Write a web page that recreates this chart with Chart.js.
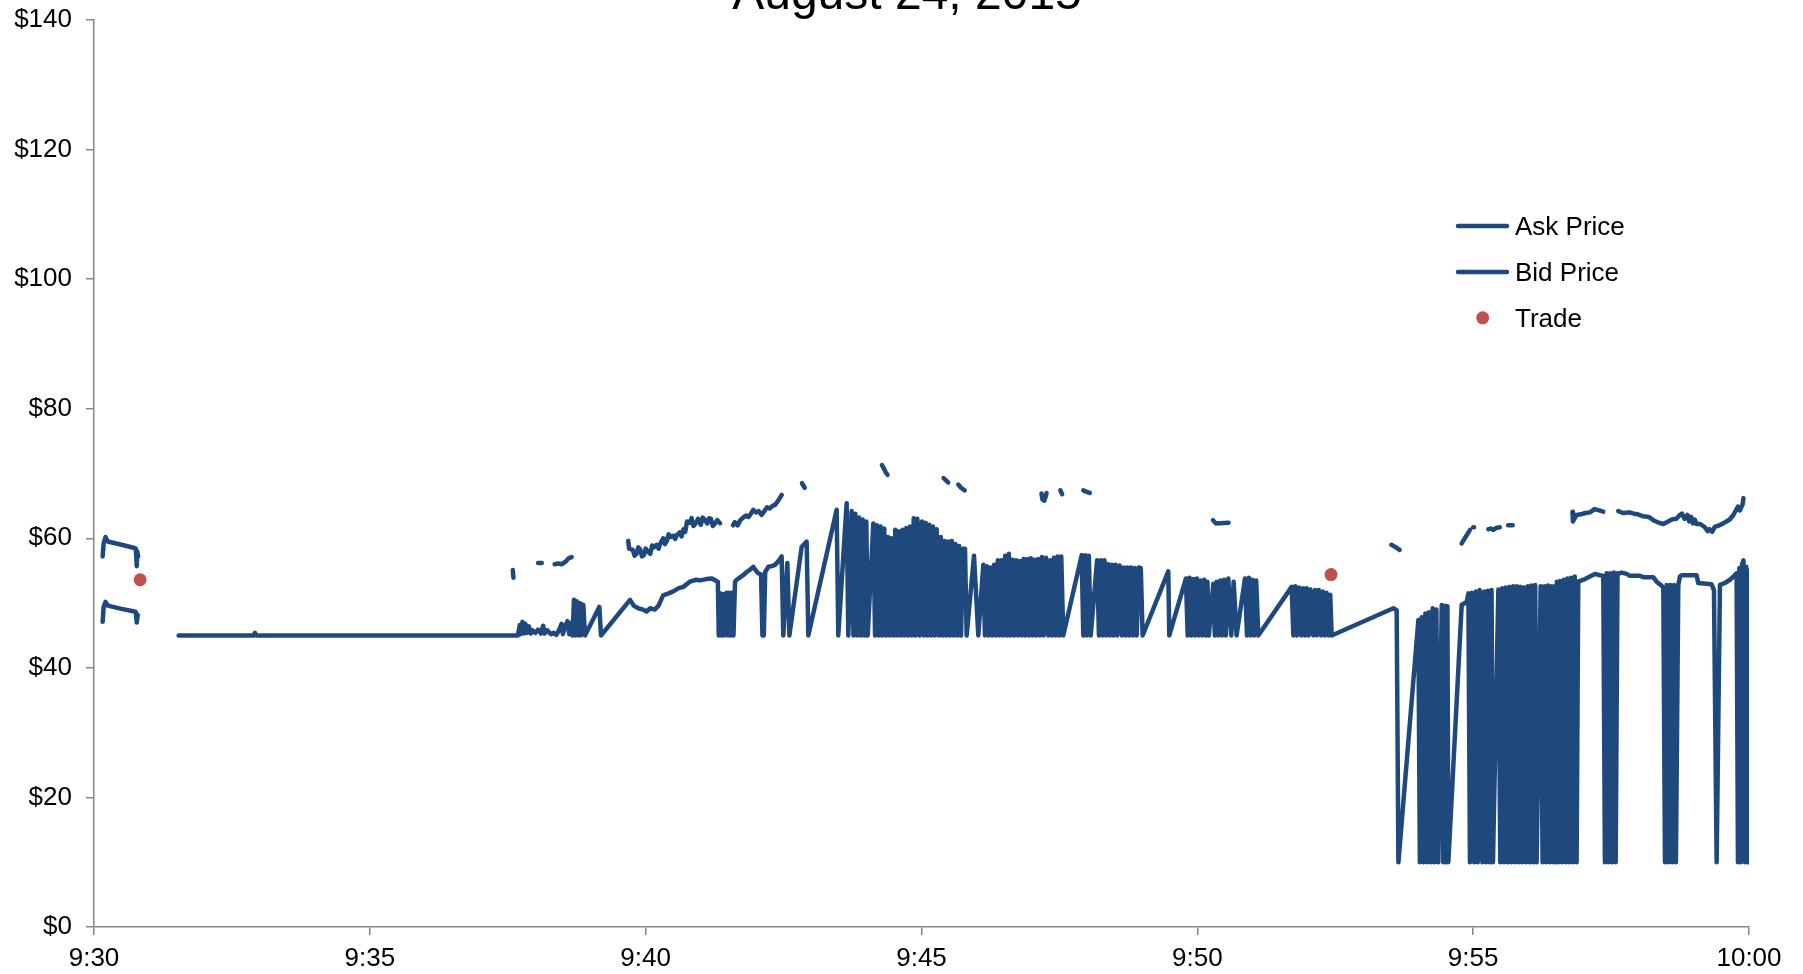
<!DOCTYPE html>
<html>
<head>
<meta charset="utf-8">
<title>August 24, 2015</title>
<script src="https://cdn.jsdelivr.net/npm/chart.js@4.4.1/dist/chart.umd.min.js"></script>
<style>
  html, body { margin: 0; padding: 0; background: #fff; }
  #wrap { width: 1803px; height: 974px; }
</style>
</head>
<body>
<div id="wrap"><canvas id="quoteChart" width="1803" height="974"></canvas></div>
<script>
// times are seconds after 9:30:00, prices in dollars; null breaks the line
const chartTitle = 'August 24, 2015';
const timeLabels = ['9:30', '9:35', '9:40', '9:45', '9:50', '9:55', '10:00'];
const priceLabels = ['$0', '$20', '$40', '$60', '$80', '$100', '$120', '$140'];

const askQuotes = [
  [9.4,57.2],[10.5,59.2],[12.5,60.2],[15,59.5],[30,59.0],[44,58.5],[45.5,58.4],[46.5,55.7],[47,58.0],[48,57.2],[48.5,null],
  [455.5,55.1],[456.2,53.9],[457,null],
  [483,56.2],[487,56.2],[488,null],
  [501,56.0],[505,56.1],[509,56.0],[513,56.4],[516,56.9],[519.5,57.1],[520,null],
  [581,59.6],[582,58.4],[586,58.2],[588,57.3],[590,57.6],[592,58.6],[594,58.3],[596,57.2],[598,57.4],[600,58.4],[602,58.0],[605,57.6],
  [607,58.9],[609,58.6],[612,59.0],[614,58.4],[616,59.2],[619,60.0],[621,59.1],[623,59.6],[625,60.6],[627,60.2],[630,60.4],[632,59.9],
  [634,60.5],[637,60.9],[639,60.3],[641,61.4],[643,61.0],[645,62.6],[648,62.4],[650,63.1],[652,61.9],[654,62.2],[657,63.0],[660,62.1],
  [662,63.2],[664,62.9],[667,62.3],[669,63.1],[671,63.0],[673,61.9],[675,62.2],[678,62.8],[681,62.3],[682,null],
  [695,62.0],[697,62.5],[700,62.0],[703,62.8],[706,63.2],[709,63.5],[712,63.3],[715,63.9],[717,64.4],[720,64.0],[723,64.2],[726,63.6],
  [729,64.2],[732,64.8],[735,64.6],[738,65.0],[741,65.2],[744,65.8],[748,66.7],[749,null],
  [770,68.5],[773,67.8],[774,null],
  [857,71.3],[859,70.8],[861,70.2],[863,69.8],[864,null],
  [924,69.3],[927,68.9],[929,68.6],[930,null],
  [940,68.3],[943,67.8],[947,67.4],[948,null],
  [1030.5,66.9],[1031.5,66.0],[1033.5,65.8],[1035,66.4],[1036,67.0],[1037,null],
  [1051,67.4],[1053,66.8],[1054,null],
  [1076,67.4],[1079,67.2],[1083,67.0],[1084,null],
  [1217,62.8],[1220,62.3],[1234,62.4],[1235,null],
  [1411,59.0],[1416,58.6],[1420,58.2],[1421,null],
  [1487.5,59.2],[1490,59.8],[1493,60.5],[1496.6,61.3],[1497,null],
  [1500,61.7],[1501,61.7],[1502,null],
  [1516.5,61.4],[1519,61.5],[1522,61.3],[1525,61.6],[1529,61.7],[1530,null],
  [1538,62.0],[1543,62.0],[1544,null],
  [1608,64.1],[1608.5,62.6],[1612.5,63.6],[1617,63.7],[1622,63.9],[1627,64.0],[1632,64.5],[1637,64.3],[1641.5,64.1],[1642,null],
  [1657.8,64.2],[1663,63.9],[1670,64.0],[1675,63.8],[1679,63.7],[1685,63.4],[1691,63.3],[1697,62.7],[1702,62.4],[1707,62.2],
  [1712,62.6],[1716,62.9],[1721,63.0],[1724,63.5],[1727,63.8],[1730,63.0],[1733,63.6],[1735,62.6],[1737,63.3],[1739,62.3],
  [1741,62.9],[1743,62.2],[1747,62.2],[1752,61.7],[1755,61.1],[1757,61.4],[1760,61.0],[1763,61.8],[1766,61.9],[1772,62.3],
  [1779,62.9],[1783,63.6],[1788,64.9],[1790,64.3],[1793,65.2],[1794,66.2]
];

const bidQuotes = [
  [9.4,47.1],[10.5,49.4],[12.5,50.2],[15,49.6],[30,49.1],[44,48.7],[45.5,48.6],[46.5,47.0],[47.5,48.2],[48,null],
  [92,45],[174,45],[175,45.4],[176.5,45],[461,45],
  [463,46.6],[464,45.2],[466,47.1],[467.5,45.3],[469,46.8],[471,45.4],[473,46.4],[475,45.3],[477,45.8],[480,45.4],[483,45.9],[486,45.3],
  [488.5,46.5],[490,45.3],[493,45.8],[497,45.2],[500,45.4],[503,45.1],[506,45.9],[508.5,46.8],[510,45.2],[513,46.6],[515,47.2],[517,45.2],
  [519,47.0],[520.5,45],
  [522,50.5],[523.5,45],[525,50.3],[526.5,45],[528,50.0],[529.5,45],[531,49.8],[532.2,49.7],[534,45],
  [549.6,49.4],[551.4,45],
  [583,50.5],[587,49.6],[592,49.2],[597,49.0],[601,48.7],[605,49.2],[610,49.0],[614,49.6],[619,51.2],[625,51.5],[630,51.8],[636,52.3],
  [641,52.5],[648,53.3],[655,53.6],[659,53.5],[666,53.7],[672,53.8],[677,53.4],[678.5,53.3],
  [679.5,45],[681,51.5],[682.5,45],[684,51.4],[685.5,45],[688,51.6],[689.5,45],[691,51.6],[692.5,45],[694,51.6],[695.5,45],[697.2,53.3],
  [699,53.6],[703,54.0],[706,54.3],[710,54.8],[714,55.2],[717,55.6],[720,55.0],[722.5,54.6],[725.5,54.4],[727,45],[728.5,45],[730,54.8],
  [733.4,55.6],[737,55.7],[740.7,55.9],[744,56.4],[747.9,57.2],[749.7,45],[754.1,56.2],[756.3,45],[769.7,58.7],[775.1,59.5],[776.9,45],
  [807.7,64.4],[809.5,45],[818.6,65.4],[820.4,45],
  [824,64.2],[826,45],[828,63.8],[830,45],[832,63.2],[834,45],[836,62.9],[838,45],[840,62.6],[841.5,45],
  [847.6,62.3],[849.5,45],[851.5,62.0],[853.5,45],[855.5,61.8],[857.5,45],[859.5,61.5],[861.5,45],[863.5,60.2],[865.5,45],[867.5,60.0],
  [869.5,45],[871.5,61.3],[873.5,45],[875.5,61.1],[877.5,45],[879.5,61.3],[881.5,45],[883.5,61.6],[885.5,45],[887.5,61.8],[889.5,45],
  [891.5,63.1],[893.5,45],[895.5,63.0],[898,45],
  [900.5,62.6],[902.5,45],[904.5,62.4],[906.5,45],[908.5,62.1],[910.5,45],[912.5,61.8],[914.5,45],[916.5,61.4],[919,45],[921,60.2],
  [923,45],[925,59.6],[927,45],[929,59.5],[931,45],[933,59.6],[935,45],[937,59.1],[939,45],[941,58.8],[943,45],[945,58.4],[947.3,58.4],
  [949.1,45],[957.1,57.3],[961.8,45],[967.2,55.9],
  [969,45],[971,55.7],[973,45],[975,55.5],[977,45],[979,55.9],[981,45],[983,56.6],[985,45],[987,56.6],[989,45],[991,57.3],[993,45],
  [995,57.6],[997,45],[999,56.7],[1001,45],[1003,56.6],[1005,45],[1007,56.5],[1009,45],[1011,56.8],[1013,45],[1015,56.8],[1017,45],
  [1019,56.9],[1021,45],[1023,56.7],[1025,45],[1027,56.8],[1029,45],[1031,57.1],[1033,45],[1035.5,57.0],[1038,45],[1040,56.6],[1042,45],
  [1044,57.0],[1046,45],[1048,57.2],[1050,45],[1052,57.2],[1054.2,45],
  [1074.2,57.4],[1076,45],[1078,57.4],[1080,45],[1082,57.3],[1084,45],
  [1091,56.6],[1093,45],[1095,56.6],[1097,45],[1099,56.6],[1101,45],[1103,56.0],[1105,45],[1107,55.9],[1109,45],[1111,55.9],[1113,45],
  [1115.5,55.8],[1118,45],[1120,55.5],[1122,45],[1124,55.5],[1126,45],[1128,55.5],[1130,45],[1132,55.4],[1134,45],[1136.5,55.5],
  [1138.5,55.4],[1140.5,45],
  [1168.4,54.9],[1169.5,45],[1187.6,53.8],
  [1189.5,45],[1191.5,53.9],[1193.5,45],[1195.5,53.7],[1197.5,45],[1199.5,53.8],[1201.5,45],[1203.5,53.5],[1205.5,45],[1207.5,53.6],
  [1209.5,45],[1211,53.3],[1212.5,45],
  [1217.4,53.0],[1219,45],[1221,53.3],[1223,45],[1225,53.5],[1227,45],[1229,53.6],[1231,45],[1233.7,53.8],[1237,45],[1239.5,53.3],[1242.7,45],
  [1251.8,53.8],[1254,45],[1256,53.9],[1258,45],[1260,53.6],[1262,45],[1264,53.5],[1266.3,45],
  [1302.6,52.5],[1304.5,45],[1306.5,52.6],[1308.5,45],[1310.5,52.4],[1313,45],[1315,52.3],[1317,45],[1319,52.3],[1321,45],[1323,52.1],
  [1326,45],[1328,52.0],[1330,45],[1332,52.0],[1334.5,45],[1336.5,51.8],[1338.5,45],[1340.5,51.6],[1342.5,45],[1344.5,51.3],[1346.1,45],
  [1413.2,49.2],[1416.8,48.9],[1418.7,10],
  [1440.4,47.4],[1442,10],[1444,47.8],[1446,10],[1448,48.4],[1450,10],[1452,48.6],[1454,10],[1456,49.2],[1458,10],[1460,49.0],[1462.1,10],
  [1465.8,49.7],[1467.5,10],[1469.5,49.6],[1471,10],[1472,49.5],[1473,10],
  [1487.5,49.7],[1493,50.2],[1494.8,51.5],
  [1496.5,10],[1498.5,51.6],[1501,10],[1503,51.8],[1505,10],[1507,52.0],[1510,10],[1512,51.8],[1514,10],[1516,51.9],[1518,10],
  [1520,52.0],[1521.5,10],
  [1527.4,52.1],[1529.5,10],[1531.5,52.3],[1533.5,10],[1535.5,52.4],[1537.5,10],[1539.5,52.5],[1541.5,10],[1543.5,52.6],[1545.5,10],
  [1547.5,52.6],[1549.5,10],[1551.5,52.5],[1553.5,10],[1555.5,52.4],[1557.5,10],[1559.5,52.6],[1561.5,10],[1563.5,52.7],[1565.5,10],
  [1567.5,52.8],[1569,10],
  [1573.4,52.6],[1575.5,10],[1577.5,52.6],[1579.5,10],[1581.5,52.7],[1583.5,10],[1585.5,52.6],[1587.5,10],[1589,52.6],[1590,10],
  [1591,53.3],[1592.5,10],[1594.5,53.4],[1596.5,10],[1598.5,53.6],[1600.5,10],[1602.5,53.8],[1604.5,10],[1606.5,53.9],[1608.5,10],
  [1610.5,54.1],[1612.5,10],[1614.3,53.3],
  [1621.6,53.7],[1627,54.1],[1632.4,54.5],[1637.9,54.3],[1641.5,54.2],[1643.3,10],[1645.1,54.6],
  [1647,10],[1649,54.6],[1651,10],[1653,54.7],[1655,10],[1657,54.6],[1659.6,54.6],
  [1661.4,54.7],[1666.9,54.5],[1670.5,54.2],[1681.4,54.2],[1685,54.0],[1695.9,54.0],[1699.5,53.3],[1704,52.8],[1706.8,52.4],
  [1708.6,10],[1710.5,52.8],[1712.5,10],[1714.5,52.8],[1716.5,10],[1718.5,52.8],[1720.5,10],[1723.1,52.8],
  [1724.9,54.1],[1726.7,54.3],[1743,54.3],[1744.8,53.1],[1759.3,52.9],[1761.9,52.0],[1764.8,10],[1768.4,52.8],[1773.8,53.1],
  [1779.3,53.6],[1784.7,54.3],[1786.5,54.6],
  [1788,10],[1789.5,55.4],[1791,10],[1792.5,56.0],[1794,56.6],[1795.5,10],[1797,55.6],[1798.5,10],[1800,55.0],[1800,10]
];

const trades = [[50.2, 53.6], [1345.4, 54.4]];

const toPoints = rows => rows.map(([t, p]) => ({ x: t, y: p }));

Chart.defaults.font.family = '"Liberation Sans", Arial, sans-serif';
Chart.defaults.font.size = 26;
Chart.defaults.color = '#000';

// title sits mostly above the canvas top, like the original
const topTitle = {
  id: 'topTitle',
  afterDraw(chart) {
    const ctx = chart.ctx;
    ctx.save();
    ctx.font = '48px "Liberation Sans", Arial, sans-serif';
    ctx.fillStyle = '#000';
    ctx.textAlign = 'center';
    ctx.textBaseline = 'alphabetic';
    ctx.fillText(chartTitle, 907, 9);
    ctx.restore();
  }
};

// legend floats inside the plot on the right
const quoteLegend = {
  id: 'quoteLegend',
  afterDraw(chart) {
    const ctx = chart.ctx;
    ctx.save();
    ctx.font = '26px "Liberation Sans", Arial, sans-serif';
    ctx.textAlign = 'left';
    ctx.textBaseline = 'alphabetic';
    chart.data.datasets.forEach((ds, i) => {
      const y = 226 + i * 45.9;
      if (ds.showLine === false) {
        ctx.fillStyle = ds.pointBackgroundColor;
        ctx.beginPath();
        ctx.arc(1482.7, y, 6.5, 0, Math.PI * 2);
        ctx.fill();
      } else {
        ctx.strokeStyle = ds.borderColor;
        ctx.lineWidth = 4.5;
        ctx.lineCap = 'round';
        ctx.beginPath();
        ctx.moveTo(1458, y);
        ctx.lineTo(1507, y);
        ctx.stroke();
      }
      ctx.fillStyle = '#000';
      ctx.fillText(ds.label, 1515, y + 9);
    });
    ctx.restore();
  }
};

const axisGray = '#868686';
const lineStyle = {
  borderColor: '#1f497d',
  borderWidth: 4.5,
  borderJoinStyle: 'round',
  borderCapStyle: 'round',
  pointRadius: 0,
  pointHoverRadius: 0,
  tension: 0,
  spanGaps: false,
  order: 1
};

new Chart(document.getElementById('quoteChart'), {
  type: 'line',
  data: {
    datasets: [
      Object.assign({ label: 'Ask Price', data: toPoints(askQuotes) }, lineStyle),
      Object.assign({ label: 'Bid Price', data: toPoints(bidQuotes) }, lineStyle),
      {
        label: 'Trade',
        data: toPoints(trades),
        showLine: false,
        pointRadius: 6.5,
        pointHoverRadius: 6.5,
        pointBackgroundColor: '#c0504d',
        pointBorderWidth: 0,
        order: 0
      }
    ]
  },
  options: {
    responsive: false,
    animation: false,
    events: [],
    layout: { padding: { top: 20, right: 54, bottom: 0, left: 0 } },
    plugins: {
      legend: { display: false },
      tooltip: { enabled: false },
      title: { display: false }
    },
    scales: {
      x: {
        type: 'linear',
        min: 0,
        max: 1800,
        afterFit: scale => { scale.height = 47; },
        ticks: {
          stepSize: 300,
          autoSkip: false,
          maxRotation: 0,
          padding: 8,
          callback: v => timeLabels[Math.round(v / 300)]
        },
        grid: { drawOnChartArea: false, drawTicks: true, tickLength: 8, color: axisGray, lineWidth: 1.5 },
        border: { display: true, color: axisGray, width: 1.5 }
      },
      y: {
        min: 0,
        max: 140,
        afterFit: scale => {
          scale.width = 94;
          scale.paddingTop = 0;
          scale.paddingBottom = 0;
        },
        ticks: {
          stepSize: 20,
          padding: 14,
          callback: v => priceLabels[Math.round(v / 20)]
        },
        grid: { drawOnChartArea: false, drawTicks: true, tickLength: 8, color: axisGray, lineWidth: 1.5 },
        border: { display: true, color: axisGray, width: 1.5 }
      }
    }
  },
  plugins: [topTitle, quoteLegend]
});
</script>
</body>
</html>
